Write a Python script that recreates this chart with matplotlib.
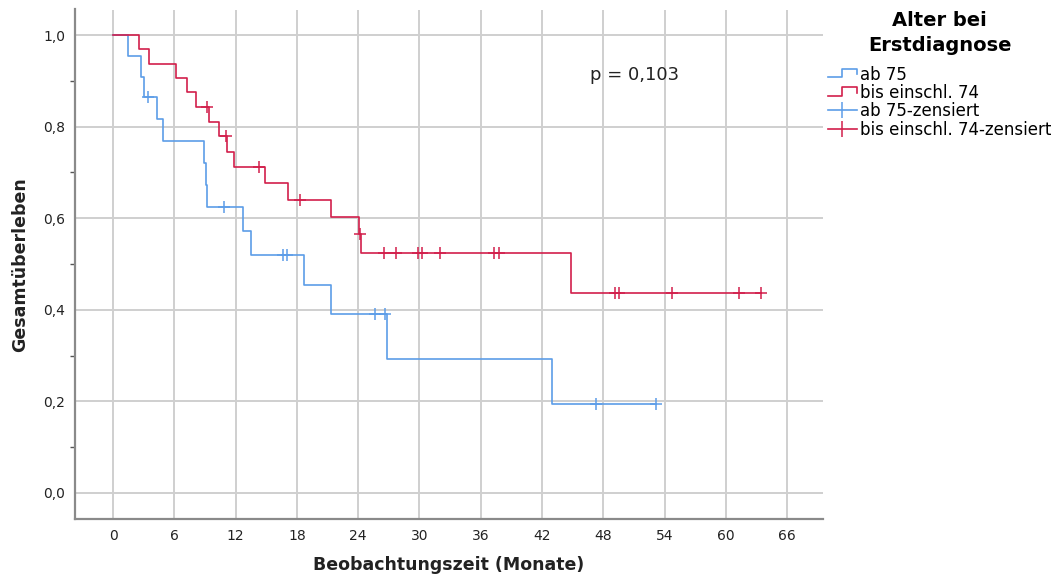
import numpy as np
import matplotlib
matplotlib.use("Agg")
import matplotlib.pyplot as plt
from matplotlib.lines import Line2D
from matplotlib.legend_handler import HandlerBase

plt.rcParams['font.family'] = ['DejaVu Sans']

# Kaplan-Meier Stufen (Zeit in Monaten, Überleben danach)
zeit_ab75 = [0, 1.5, 2.7, 3.0, 4.3, 4.9, 8.9, 9.1, 9.25, 12.7, 13.5, 18.7, 21.3, 26.8, 43.0]
surv_ab75 = [1.0, 0.955, 0.909, 0.864, 0.816, 0.768, 0.720, 0.672, 0.624, 0.572, 0.520, 0.455, 0.390, 0.293, 0.195]
ende_ab75 = 53.2

zeit_bis74 = [0, 2.55, 3.5, 6.2, 7.2, 8.1, 9.35, 10.4, 11.2, 11.8, 14.9, 17.1, 21.35, 24.05, 24.3, 44.8]
surv_bis74 = [1.0, 0.969, 0.938, 0.906, 0.875, 0.844, 0.811, 0.779, 0.745, 0.711, 0.676, 0.640, 0.602, 0.565, 0.525, 0.437]
ende_bis74 = 63.4

# zensierte Fälle
zens_t_ab75 = [3.4, 10.9, 16.6, 17.0, 25.6, 26.6, 47.3, 53.2]
zens_s_ab75 = [0.864, 0.624, 0.520, 0.520, 0.390, 0.390, 0.195, 0.195]

zens_t_bis74 = [9.2, 11.05, 14.3, 18.3, 24.2, 26.5, 27.7, 29.9, 30.2, 32.0, 37.3, 37.8, 49.1, 49.5, 54.7, 61.3, 63.4]
zens_s_bis74 = [0.844, 0.779, 0.711, 0.640, 0.565, 0.525, 0.525, 0.525, 0.525, 0.525, 0.525, 0.525,
                0.437, 0.437, 0.437, 0.437, 0.437]

x_ticks = list(range(0, 67, 6))
y_ticks = [0.0, 0.2, 0.4, 0.6, 0.8, 1.0]
y_labels = ["0,0", "0,2", "0,4", "0,6", "0,8", "1,0"]

blau = "#5c9de8"
rot = "#d21f4b"


class StufenHandler(HandlerBase):
	def create_artists(self, legend, orig_handle, xdescent, ydescent, width, height, fontsize, trans):
		x0 = -xdescent
		y0 = -ydescent
		xs = [x0, x0 + 0.5 * width, x0 + 0.5 * width, x0 + width, x0 + width]
		ys = [y0 + 0.2 * height, y0 + 0.2 * height, y0 + 0.9 * height, y0 + 0.9 * height, y0 + 0.45 * height]
		line = Line2D(xs, ys, color=orig_handle.get_color(), lw=orig_handle.get_linewidth())
		line.set_transform(trans)
		return [line]


fig = plt.figure(figsize=(10.56, 5.78), dpi=100)
ax = fig.add_axes([75 / 1056, 1 - 519 / 578, 748 / 1056, 509.5 / 578])

ax.set_xlim(-3.72, 69.5)
ax.set_ylim(-0.057, 1.056)

ax.set_xticks(x_ticks)
ax.set_yticks(y_ticks)
ax.set_yticklabels(y_labels)
ax.set_yticks([0.1, 0.3, 0.5, 0.7, 0.9], minor=True)
ax.tick_params(axis='both', which='major', length=0, labelsize=10, colors='#222222')
ax.tick_params(axis='x', pad=7)
ax.tick_params(axis='y', pad=7)
ax.tick_params(axis='y', which='minor', length=3.5, width=1, color='#555555')
ax.grid(True, color='#cfcfcf', lw=1.4)
ax.set_axisbelow(True)

for s in ['top', 'right']:
	ax.spines[s].set_visible(False)
for s in ['left', 'bottom']:
	ax.spines[s].set_color('#8a8a8a')
	ax.spines[s].set_linewidth(1.6)

ax.step(zeit_ab75 + [ende_ab75], surv_ab75 + [surv_ab75[-1]], where='post', color=blau, lw=1.2)
ax.step(zeit_bis74 + [ende_bis74], surv_bis74 + [surv_bis74[-1]], where='post', color=rot, lw=1.2)
ax.plot(zens_t_ab75, zens_s_ab75, linestyle='none', marker='+', ms=9, mew=1.1, color=blau)
ax.plot(zens_t_bis74, zens_s_bis74, linestyle='none', marker='+', ms=9, mew=1.1, color=rot)

ax.text(46.7, 0.913, "p = 0,103", fontsize=13, va='center', ha='left', color='#222222')

fig.text(20 / 1056, 1 - 265 / 578, "Gesamtüberleben", rotation=90, fontsize=12.5,
	fontweight='bold', ha='center', va='center', color='#222222')
fig.text(449 / 1056, 1 - 565 / 578, "Beobachtungszeit (Monate)", fontsize=12.5,
	fontweight='bold', ha='center', va='center', color='#222222')

h1 = Line2D([], [], color=blau, lw=1.2)
h2 = Line2D([], [], color=rot, lw=1.2)
h3 = Line2D([], [], color=blau, lw=1.2, marker='|', ms=12, mew=1.1)
h4 = Line2D([], [], color=rot, lw=1.2, marker='|', ms=12, mew=1.1)

leg = fig.legend(
	[h1, h2, h3, h4],
	["ab 75", "bis einschl. 74", "ab 75-zensiert", "bis einschl. 74-zensiert"],
	handler_map={h1: StufenHandler(), h2: StufenHandler()},
	loc='upper left', bbox_to_anchor=(817 / 1056, 1.0),
	frameon=False, fontsize=12, title="Alter bei\nErstdiagnose",
	title_fontproperties={'weight': 'bold', 'size': 14},
	handlelength=1.75, handletextpad=0.2, labelspacing=0.02, borderpad=0.15,
)
leg.get_title().set_multialignment('center')
leg.get_title().set_linespacing(1.38)
leg._legend_box.sep = 8

plt.savefig("out.png", dpi=100)
